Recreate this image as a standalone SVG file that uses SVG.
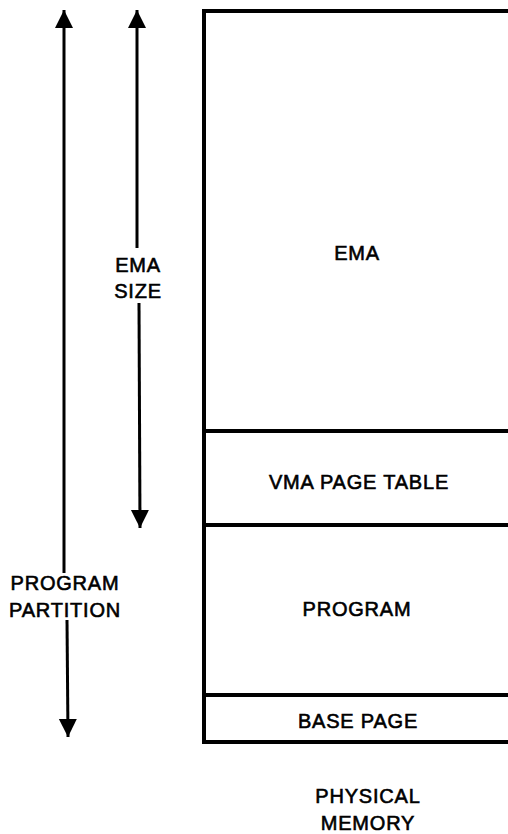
<svg xmlns="http://www.w3.org/2000/svg" width="508" height="834" viewBox="0 0 508 834">
<defs>
<style>
.t{font-family:"Liberation Sans",Arial,sans-serif;font-size:20px;fill:#000;stroke:#000;stroke-width:0.6;text-anchor:middle;letter-spacing:0.8px}
.box{fill:none;stroke:#000;stroke-width:4}
.sh{stroke:#000;stroke-width:3;fill:none}
</style>
<marker id="ah" viewBox="0 0 18 20" refX="18" refY="9" markerWidth="18" markerHeight="20" markerUnits="userSpaceOnUse" orient="auto">
<path d="M0,0 L18,9 L0,18 Z" fill="#000"/>
</marker>
</defs>
<rect width="508" height="834" fill="#fff"/>
<g id="memory">
<path class="box" d="M512,11 L204,11 L204,742 L512,742"/>
</g>
<g id="ema"><text class="t" x="357" y="260">EMA</text></g>
<g id="vma"><line class="box" x1="204" y1="431" x2="512" y2="431"/><text class="t" x="359" y="489">VMA PAGE TABLE</text></g>
<g id="program"><line class="box" x1="204" y1="525" x2="512" y2="525"/><text class="t" x="357" y="616">PROGRAM</text></g>
<g id="basepage"><line class="box" x1="204" y1="695" x2="512" y2="695"/><text class="t" x="358" y="728">BASE PAGE</text></g>
<g id="physical"><text class="t" x="368" y="803">PHYSICAL</text><text class="t" x="368" y="830">MEMORY</text></g>
<g id="labels">
<text class="t" x="138" y="272">EMA</text><text class="t" x="138" y="298">SIZE</text>
<text class="t" x="65" y="590">PROGRAM</text><text class="t" x="65" y="617">PARTITION</text>
</g>
<g id="connectors">
<line class="sh" x1="137" y1="248" x2="137" y2="10" marker-end="url(#ah)"/>
<line class="sh" x1="139" y1="303" x2="140" y2="528" marker-end="url(#ah)"/>
<line class="sh" x1="64" y1="573" x2="64" y2="10" marker-end="url(#ah)"/>
<line class="sh" x1="67" y1="620" x2="68" y2="737" marker-end="url(#ah)"/>
</g>
</svg>
